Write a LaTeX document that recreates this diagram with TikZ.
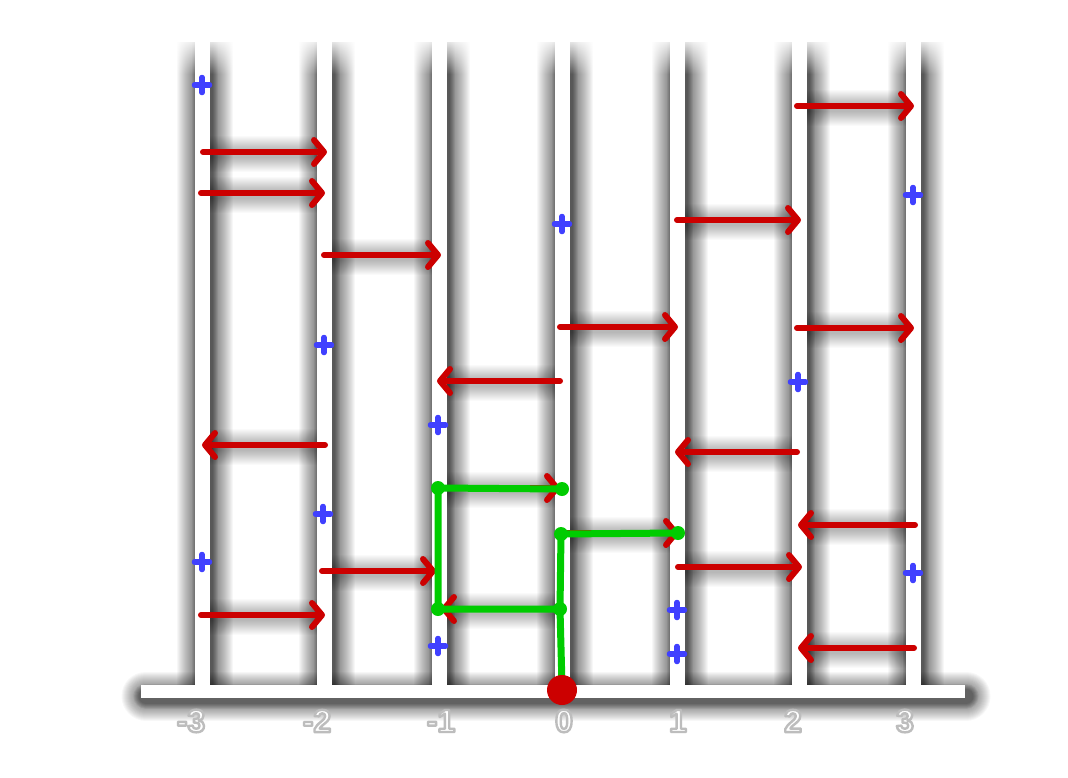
\documentclass[tikz,border=0pt]{standalone}
\usepackage{fontspec}
\setmainfont{Liberation Sans}
\usetikzlibrary{arrows.meta,fadings}
\definecolor{rd}{RGB}{204,0,0}
\definecolor{bl}{RGB}{64,64,255}
\definecolor{gr}{RGB}{0,204,0}
\tikzfading[name=topfade, top color=transparent!0, bottom color=transparent!100]
\newcommand{\shadowtext}[1]{\special{pdf:literal direct 0.74 G 2.4 w 1 j 2 Tr}#1\special{pdf:literal direct 0 Tr}}
\def\arrlist{203/152/327, 201/193/325, 325/445/202, 201/615/325, 324/255/441, 322/571/436, 560/381/437, 440/488/560, 558/609/441, 560/327/678, 560/533/679, 677/220/801, 797/452/675, 678/567/802, 797/106/914, 797/328/914, 915/525/798, 914/648/798}
\begin{document}
\begin{tikzpicture}[x=1pt,y=-1pt,
  wline/.style={white, line width=15},
  rarrow/.style={rd, line width=6, line cap=round, -{Straight Barb[length=10,width=24,line cap=round,line join=round]}},
  gpath/.style={gr, line width=7, line cap=round, line join=round},
  gdot/.style={circle, fill=gr, inner sep=0pt, minimum size=14},
  plusmark/.style={bl, line width=5.5, line cap=round},
  lbl/.style={font=\bfseries\fontsize{32}{32}\selectfont, text=white},
  shd/.style={black, opacity=#1},
  shd/.default=0.03
]
\useasboundingbox (0,0) rectangle (1068,777);
\fill[white] (0,0) rectangle (1068,777);
% column positions
\foreach \n/\x in {m3/202,m2/324,m1/439,z/562,p1/677,p2/799,p3/913}{
  \coordinate (T\n) at (\x,42);
  \coordinate (B\n) at (\x,686);
}
\coordinate (AL) at (141,691);
\coordinate (AR) at (965,691);
% soft shadows of the rails
\foreach \x in {202,324,439,562,677,799,913}{
  \foreach \w in {16,18,...,56}
    \draw[shd, line width=\w] (\x+3,42) -- (\x+3,690);
  \foreach \w in {16,18,...,26}
    \draw[shd=0.05, line width=\w] (\x+3,42) -- (\x+3,690);
}
\foreach \w in {15,17,...,49}
  \draw[shd, line width=\w, line cap=round] (146,696) -- (966,696);
\foreach \w in {15,17,...,25}
  \draw[shd=0.05, line width=\w, line cap=round] (146,696) -- (966,696);
% soft shadows of the arrows (between the rails only)
\foreach \a/\y/\b in \arrlist {
  \foreach \w in {8,10,...,36}
    \draw[shd=0.018, line width=\w] (\a,\y+2) -- (\b,\y+2);
}
\fill[white, path fading=topfade] (150,36) rectangle (960,74);
% white rails
\foreach \n in {m3,m2,m1,z,p1,p2,p3}
  \draw[wline] (T\n) -- (B\n);
\draw[white, line width=13] (AL) -- (AR);
% labels
\foreach \x/\t in {191/-3,317/-2,441/-1,564/0,678/1,793/2,905/3}
  \node[lbl] (lab\t) at (\x,721) {\shadowtext{\t}};
% red arrows
\foreach \a/\y/\b in \arrlist
  \draw[rarrow] (\a,\y) -- (\b,\y);
% blue plus signs
\foreach \x/\y in {202/85,562/224,913/195,324/345,798/382,438/425,323/514,202/562,913/573,677/610,677/654,438/646}
  \draw[plusmark] (\x-7.5,\y) -- (\x+7.5,\y) (\x,\y-7.5) -- (\x,\y+7.5);
% green path
\node[gdot] (g1) at (438,488) {};
\node[gdot] (g2) at (562,489) {};
\node[gdot] (g3) at (561,534) {};
\node[gdot] (g4) at (678,533) {};
\node[gdot] (g5) at (438,609) {};
\node[gdot] (g6) at (560,609) {};
\coordinate (g0) at (562,686);
\draw[gpath] (g0) -- (g6.center) -- (g3.center) -- (g4.center);
\draw[gpath] (g6.center) -- (g5.center) -- (g1.center) -- (g2.center);
% origin dot
\node[circle, fill=rd, inner sep=0pt, minimum size=30] (origin) at (562,690) {};
\end{tikzpicture}
\end{document}
